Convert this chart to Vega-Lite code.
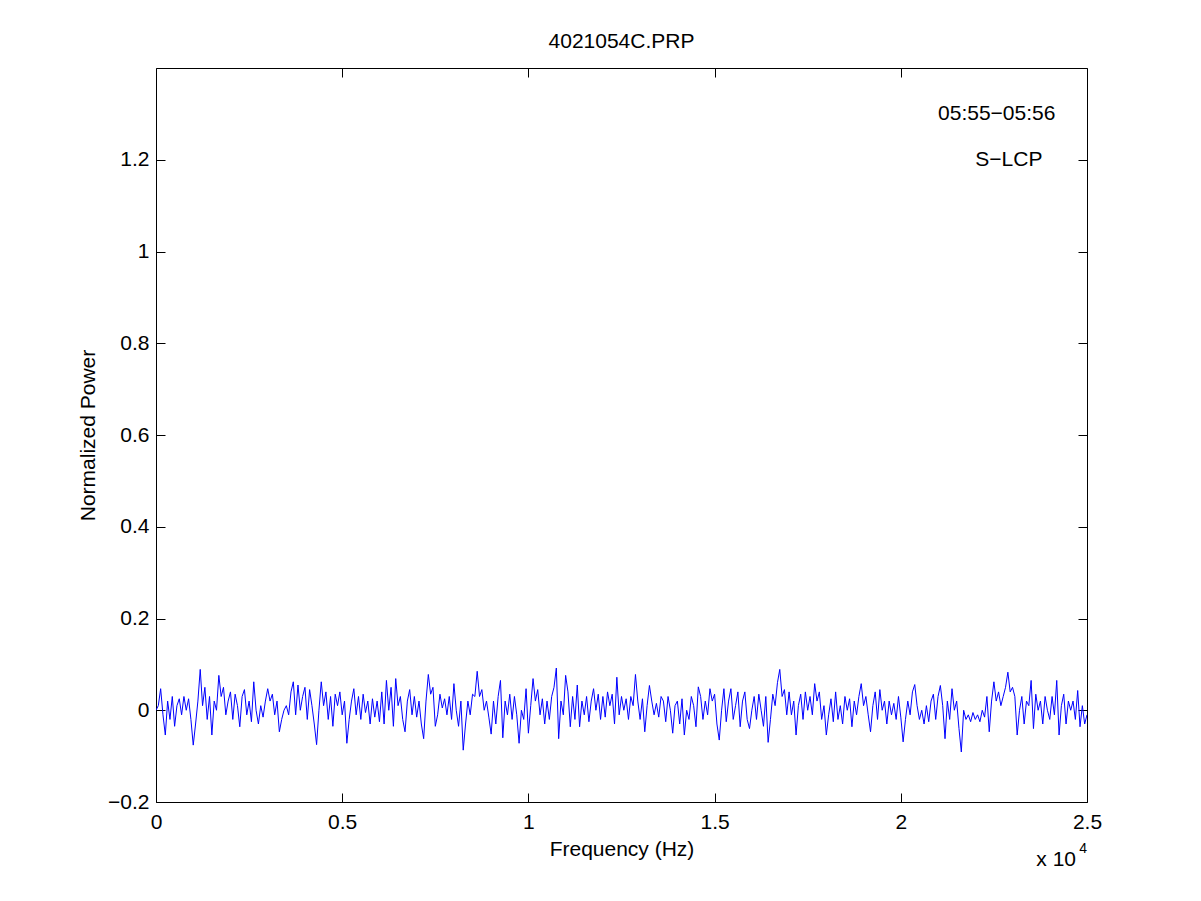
{
  "$schema": "https://vega.github.io/schema/vega-lite/v6.json",
  "width": 931,
  "height": 734,
  "autosize": {"type": "none"},
  "padding": {"left": 156, "top": 68, "right": 114, "bottom": 99},
  "background": "white",
  "title": {"text": "4021054C.PRP", "offset": 16},
  "config": {
    "font": "Liberation Sans",
    "view": {"stroke": "black", "strokeWidth": 1},
    "title": {"font": "Liberation Sans", "fontSize": 21, "fontWeight": "normal", "color": "black"},
    "axis": {
      "domain": false, "grid": false, "tickColor": "black", "tickSize": -9,
      "labelFont": "Liberation Sans", "labelFontSize": 21, "labelColor": "black",
      "titleFont": "Liberation Sans", "titleFontSize": 21, "titleFontWeight": "normal", "titleColor": "black",
      "labelFlush": false, "labelOverlap": false
    }
  },
  "resolve": {"axis": {"x": "independent", "y": "independent"}},
  "layer": [
    {
      "data": {"values": [
        {"f":0,"p":0},{"f":62.5,"p":0.01},{"f":125,"p":0.047},{"f":187.5,"p":-0.01},{"f":250,"p":-0.054},{"f":312.5,"p":0.02},{"f":375,"p":-0.02},{"f":437.5,"p":0.03},{"f":500,"p":-0.035},{"f":562.5,"p":0.01},{"f":625,"p":0.025},{"f":687.5,"p":-0.01},{"f":750,"p":0.03},{"f":812.5,"p":0},{"f":875,"p":0.025},{"f":937.5,"p":-0.02},
        {"f":1000,"p":-0.076},{"f":1062.5,"p":-0.03},{"f":1125,"p":0.02},{"f":1187.5,"p":0.089},{"f":1250,"p":0.01},{"f":1312.5,"p":0.05},{"f":1375,"p":-0.02},{"f":1437.5,"p":0.03},{"f":1500,"p":-0.054},{"f":1562.5,"p":0.02},{"f":1625,"p":0},{"f":1687.5,"p":0.076},{"f":1750,"p":0.03},{"f":1812.5,"p":0.05},{"f":1875,"p":-0.01},{"f":1937.5,"p":0.02},
        {"f":2000,"p":0.04},{"f":2062.5,"p":-0.02},{"f":2125,"p":0.035},{"f":2187.5,"p":0.01},{"f":2250,"p":-0.036},{"f":2312.5,"p":0.03},{"f":2375,"p":0.045},{"f":2437.5,"p":-0.01},{"f":2500,"p":0.02},{"f":2562.5,"p":-0.025},{"f":2625,"p":0.062},{"f":2687.5,"p":0},{"f":2750,"p":-0.03},{"f":2812.5,"p":0.01},{"f":2875,"p":-0.015},{"f":2937.5,"p":0.02},
        {"f":3000,"p":0.047},{"f":3062.5,"p":0.02},{"f":3125,"p":0.035},{"f":3187.5,"p":-0.01},{"f":3250,"p":0.02},{"f":3312.5,"p":-0.047},{"f":3375,"p":-0.02},{"f":3437.5,"p":0},{"f":3500,"p":0.01},{"f":3562.5,"p":-0.01},{"f":3625,"p":0.04},{"f":3687.5,"p":0.062},{"f":3750,"p":-0.01},{"f":3812.5,"p":0.055},{"f":3875,"p":0},{"f":3937.5,"p":0.03},
        {"f":4000,"p":0.05},{"f":4062.5,"p":-0.02},{"f":4125,"p":0.045},{"f":4187.5,"p":0.01},{"f":4250,"p":-0.03},{"f":4312.5,"p":-0.075},{"f":4375,"p":0},{"f":4437.5,"p":0.062},{"f":4500,"p":0.01},{"f":4562.5,"p":0.04},{"f":4625,"p":-0.02},{"f":4687.5,"p":0.03},{"f":4750,"p":-0.035},{"f":4812.5,"p":0.035},{"f":4875,"p":0.01},{"f":4937.5,"p":0.04},
        {"f":5000,"p":-0.01},{"f":5062.5,"p":0.02},{"f":5125,"p":-0.072},{"f":5187.5,"p":-0.02},{"f":5250,"p":0.02},{"f":5312.5,"p":0.047},{"f":5375,"p":-0.01},{"f":5437.5,"p":0.03},{"f":5500,"p":-0.02},{"f":5562.5,"p":0.035},{"f":5625,"p":-0.005},{"f":5687.5,"p":0.02},{"f":5750,"p":-0.03},{"f":5812.5,"p":0.025},{"f":5875,"p":-0.015},{"f":5937.5,"p":0.02},
        {"f":6000,"p":-0.025},{"f":6062.5,"p":0.04},{"f":6125,"p":-0.03},{"f":6187.5,"p":0.065},{"f":6250,"p":0},{"f":6312.5,"p":0.05},{"f":6375,"p":-0.035},{"f":6437.5,"p":0.069},{"f":6500,"p":0.01},{"f":6562.5,"p":0.03},{"f":6625,"p":-0.02},{"f":6687.5,"p":-0.047},{"f":6750,"p":0.02},{"f":6812.5,"p":0.045},{"f":6875,"p":-0.01},{"f":6937.5,"p":0.03},
        {"f":7000,"p":-0.015},{"f":7062.5,"p":0.02},{"f":7125,"p":-0.03},{"f":7187.5,"p":-0.062},{"f":7250,"p":0.02},{"f":7312.5,"p":0.078},{"f":7375,"p":0.035},{"f":7437.5,"p":0.05},{"f":7500,"p":-0.035},{"f":7562.5,"p":-0.01},{"f":7625,"p":0.035},{"f":7687.5,"p":0.005},{"f":7750,"p":0.025},{"f":7812.5,"p":-0.01},{"f":7875,"p":0.03},{"f":7937.5,"p":-0.02},
        {"f":8000,"p":0.058},{"f":8062.5,"p":0},{"f":8125,"p":-0.035},{"f":8187.5,"p":0.02},{"f":8250,"p":-0.087},{"f":8312.5,"p":-0.03},{"f":8375,"p":0.02},{"f":8437.5,"p":-0.01},{"f":8500,"p":0.035},{"f":8562.5,"p":0.03},{"f":8625,"p":0.085},{"f":8687.5,"p":0.03},{"f":8750,"p":0.045},{"f":8812.5,"p":0},{"f":8875,"p":0.02},{"f":8937.5,"p":-0.015},
        {"f":9000,"p":-0.052},{"f":9062.5,"p":0.02},{"f":9125,"p":-0.03},{"f":9187.5,"p":0.03},{"f":9250,"p":0.065},{"f":9312.5,"p":-0.06},{"f":9375,"p":0.02},{"f":9437.5,"p":-0.01},{"f":9500,"p":0.035},{"f":9562.5,"p":-0.02},{"f":9625,"p":0.03},{"f":9687.5,"p":-0.01},{"f":9750,"p":-0.072},{"f":9812.5,"p":0},{"f":9875,"p":-0.02},{"f":9937.5,"p":0.047},
        {"f":10000,"p":-0.05},{"f":10062.5,"p":0.01},{"f":10125,"p":0.069},{"f":10187.5,"p":0.02},{"f":10250,"p":0.045},{"f":10312.5,"p":-0.01},{"f":10375,"p":0.025},{"f":10437.5,"p":-0.03},{"f":10500,"p":0.02},{"f":10562.5,"p":-0.02},{"f":10625,"p":0.03},{"f":10687.5,"p":0.05},{"f":10750,"p":0.092},{"f":10812.5,"p":-0.062},{"f":10875,"p":0.02},{"f":10937.5,"p":-0.01},
        {"f":11000,"p":0.076},{"f":11062.5,"p":0.04},{"f":11125,"p":-0.036},{"f":11187.5,"p":0.03},{"f":11250,"p":-0.02},{"f":11312.5,"p":0.055},{"f":11375,"p":-0.036},{"f":11437.5,"p":0.02},{"f":11500,"p":-0.01},{"f":11562.5,"p":0.03},{"f":11625,"p":-0.025},{"f":11687.5,"p":0.02},{"f":11750,"p":0.047},{"f":11812.5,"p":0},{"f":11875,"p":0.035},{"f":11937.5,"p":-0.02},
        {"f":12000,"p":0.03},{"f":12062.5,"p":-0.015},{"f":12125,"p":0.04},{"f":12187.5,"p":0.01},{"f":12250,"p":0.035},{"f":12312.5,"p":-0.03},{"f":12375,"p":0.072},{"f":12437.5,"p":-0.01},{"f":12500,"p":0.03},{"f":12562.5,"p":0},{"f":12625,"p":0.025},{"f":12687.5,"p":-0.02},{"f":12750,"p":0.03},{"f":12812.5,"p":0.01},{"f":12875,"p":0.078},{"f":12937.5,"p":0.02},
        {"f":13000,"p":-0.02},{"f":13062.5,"p":0.025},{"f":13125,"p":-0.047},{"f":13187.5,"p":0.01},{"f":13250,"p":0.054},{"f":13312.5,"p":0.02},{"f":13375,"p":-0.01},{"f":13437.5,"p":0.015},{"f":13500,"p":-0.015},{"f":13562.5,"p":0.03},{"f":13625,"p":0.02},{"f":13687.5,"p":-0.025},{"f":13750,"p":0.03},{"f":13812.5,"p":0},{"f":13875,"p":-0.05},{"f":13937.5,"p":0.01},
        {"f":14000,"p":0.02},{"f":14062.5,"p":-0.03},{"f":14125,"p":0.025},{"f":14187.5,"p":-0.054},{"f":14250,"p":0},{"f":14312.5,"p":-0.02},{"f":14375,"p":0.03},{"f":14437.5,"p":0.01},{"f":14500,"p":-0.036},{"f":14562.5,"p":0.051},{"f":14625,"p":0.03},{"f":14687.5,"p":-0.02},{"f":14750,"p":0.02},{"f":14812.5,"p":-0.01},{"f":14875,"p":0.047},{"f":14937.5,"p":0.02},
        {"f":15000,"p":0.035},{"f":15062.5,"p":-0.03},{"f":15125,"p":-0.065},{"f":15187.5,"p":0},{"f":15250,"p":0.047},{"f":15312.5,"p":-0.025},{"f":15375,"p":0.02},{"f":15437.5,"p":0.047},{"f":15500,"p":-0.02},{"f":15562.5,"p":0.01},{"f":15625,"p":0.04},{"f":15687.5,"p":-0.036},{"f":15750,"p":0.02},{"f":15812.5,"p":0.04},{"f":15875,"p":-0.02},{"f":15937.5,"p":-0.04},
        {"f":16000,"p":0},{"f":16062.5,"p":0.03},{"f":16125,"p":-0.02},{"f":16187.5,"p":0.035},{"f":16250,"p":0},{"f":16312.5,"p":-0.035},{"f":16375,"p":0.03},{"f":16437.5,"p":-0.07},{"f":16500,"p":-0.02},{"f":16562.5,"p":0.035},{"f":16625,"p":0.01},{"f":16687.5,"p":0.06},{"f":16750,"p":0.089},{"f":16812.5,"p":0.03},{"f":16875,"p":0.045},{"f":16937.5,"p":-0.01},
        {"f":17000,"p":0.04},{"f":17062.5,"p":-0.01},{"f":17125,"p":0.02},{"f":17187.5,"p":-0.054},{"f":17250,"p":0.01},{"f":17312.5,"p":0.035},{"f":17375,"p":-0.02},{"f":17437.5,"p":0.04},{"f":17500,"p":0},{"f":17562.5,"p":0.03},{"f":17625,"p":-0.01},{"f":17687.5,"p":0.058},{"f":17750,"p":0.02},{"f":17812.5,"p":0.04},{"f":17875,"p":-0.02},{"f":17937.5,"p":0.01},
        {"f":18000,"p":-0.054},{"f":18062.5,"p":-0.01},{"f":18125,"p":0.025},{"f":18187.5,"p":-0.025},{"f":18250,"p":0.04},{"f":18312.5,"p":-0.02},{"f":18375,"p":0.01},{"f":18437.5,"p":-0.03},{"f":18500,"p":0.03},{"f":18562.5,"p":0},{"f":18625,"p":0.025},{"f":18687.5,"p":-0.036},{"f":18750,"p":0.02},{"f":18812.5,"p":-0.01},{"f":18875,"p":0.03},{"f":18937.5,"p":0.058},
        {"f":19000,"p":0.01},{"f":19062.5,"p":0.03},{"f":19125,"p":-0.01},{"f":19187.5,"p":-0.047},{"f":19250,"p":0.01},{"f":19312.5,"p":0.04},{"f":19375,"p":-0.02},{"f":19437.5,"p":0.045},{"f":19500,"p":0},{"f":19562.5,"p":0.02},{"f":19625,"p":-0.03},{"f":19687.5,"p":0.02},{"f":19750,"p":-0.01},{"f":19812.5,"p":0.015},{"f":19875,"p":-0.02},{"f":19937.5,"p":0.03},
        {"f":20000,"p":-0.015},{"f":20062.5,"p":-0.069},{"f":20125,"p":-0.02},{"f":20187.5,"p":0.02},{"f":20250,"p":-0.01},{"f":20312.5,"p":0.04},{"f":20375,"p":0.056},{"f":20437.5,"p":0.01},{"f":20500,"p":-0.02},{"f":20562.5,"p":0},{"f":20625,"p":-0.03},{"f":20687.5,"p":0.01},{"f":20750,"p":-0.025},{"f":20812.5,"p":0.02},{"f":20875,"p":0.035},{"f":20937.5,"p":-0.02},
        {"f":21000,"p":0.03},{"f":21062.5,"p":0.054},{"f":21125,"p":0.01},{"f":21187.5,"p":-0.062},{"f":21250,"p":0.02},{"f":21312.5,"p":-0.02},{"f":21375,"p":0.047},{"f":21437.5,"p":0},{"f":21500,"p":0.02},{"f":21562.5,"p":-0.04},{"f":21625,"p":-0.091},{"f":21687.5,"p":0},{"f":21750,"p":-0.02},{"f":21812.5,"p":-0.01},{"f":21875,"p":-0.025},{"f":21937.5,"p":-0.005},
        {"f":22000,"p":-0.02},{"f":22062.5,"p":-0.01},{"f":22125,"p":-0.025},{"f":22187.5,"p":0},{"f":22250,"p":-0.015},{"f":22312.5,"p":0.03},{"f":22375,"p":-0.047},{"f":22437.5,"p":0.02},{"f":22500,"p":0.062},{"f":22562.5,"p":0.02},{"f":22625,"p":0.04},{"f":22687.5,"p":0.01},{"f":22750,"p":0.03},{"f":22812.5,"p":0.05},{"f":22875,"p":0.083},{"f":22937.5,"p":0.04},
        {"f":23000,"p":0.05},{"f":23062.5,"p":0.03},{"f":23125,"p":-0.054},{"f":23187.5,"p":0},{"f":23250,"p":0.03},{"f":23312.5,"p":-0.03},{"f":23375,"p":0.02},{"f":23437.5,"p":0.01},{"f":23500,"p":0.065},{"f":23562.5,"p":-0.04},{"f":23625,"p":0.035},{"f":23687.5,"p":0},{"f":23750,"p":0.02},{"f":23812.5,"p":-0.03},{"f":23875,"p":0.03},{"f":23937.5,"p":0},
        {"f":24000,"p":-0.02},{"f":24062.5,"p":0.03},{"f":24125,"p":-0.01},{"f":24187.5,"p":0.065},{"f":24250,"p":-0.054},{"f":24312.5,"p":0.01},{"f":24375,"p":0.035},{"f":24437.5,"p":-0.03},{"f":24500,"p":0.02},{"f":24562.5,"p":0},{"f":24625,"p":0.02},{"f":24687.5,"p":-0.02},{"f":24750,"p":0.043},{"f":24812.5,"p":-0.036},{"f":24875,"p":0.01},{"f":24937.5,"p":-0.03},{"f":25000,"p":-0.01}
      ]},
      "mark": {"type": "line", "color": "#0000ff", "strokeWidth": 1, "clip": true},
      "encoding": {
        "x": {
          "field": "f", "type": "quantitative",
          "scale": {"domain": [0, 25000], "nice": false, "zero": false},
          "axis": {
            "orient": "bottom", "title": "Frequency (Hz)",
            "values": [0, 5000, 10000, 15000, 20000, 25000],
            "labelExpr": "format(datum.value / 10000, '~g')",
            "labelPadding": 18, "titlePadding": 6
          }
        },
        "y": {
          "field": "p", "type": "quantitative",
          "scale": {"domain": [-0.2, 1.4], "nice": false, "zero": false},
          "axis": {
            "orient": "left", "title": "Normalized Power",
            "values": [-0.2, 0, 0.2, 0.4, 0.6, 0.8, 1, 1.2],
            "format": "~g", "labelPadding": 16, "titlePadding": 9
          }
        }
      }
    },
    {
      "data": {"values": [
        {"f": 21000, "p": 1.3, "label": "05:55−05:56"},
        {"f": 22000, "p": 1.2, "label": "S−LCP"}
      ]},
      "mark": {"type": "text", "align": "left", "baseline": "middle", "fontSize": 21, "font": "Liberation Sans", "color": "black"},
      "encoding": {
        "x": {
          "field": "f", "type": "quantitative",
          "axis": {"orient": "top", "title": null, "labels": false, "values": [0, 5000, 10000, 15000, 20000, 25000]}
        },
        "y": {
          "field": "p", "type": "quantitative",
          "axis": {"orient": "right", "title": null, "labels": false, "values": [-0.2, 0, 0.2, 0.4, 0.6, 0.8, 1, 1.2]}
        },
        "text": {"field": "label"}
      }
    },
    {
      "data": {"values": [{"f": 25000, "p": -0.2, "label": "x 10"}]},
      "mark": {"type": "text", "align": "right", "baseline": "alphabetic", "dx": -11, "dy": 64, "fontSize": 21, "font": "Liberation Sans", "color": "black"},
      "encoding": {
        "x": {"field": "f", "type": "quantitative", "axis": null},
        "y": {"field": "p", "type": "quantitative", "axis": null},
        "text": {"field": "label"}
      }
    },
    {
      "data": {"values": [{"f": 25000, "p": -0.2, "label": "4"}]},
      "mark": {"type": "text", "align": "right", "baseline": "alphabetic", "dx": 0, "dy": 51, "fontSize": 14, "font": "Liberation Sans", "color": "black"},
      "encoding": {
        "x": {"field": "f", "type": "quantitative", "axis": null},
        "y": {"field": "p", "type": "quantitative", "axis": null},
        "text": {"field": "label"}
      }
    }
  ]
}
